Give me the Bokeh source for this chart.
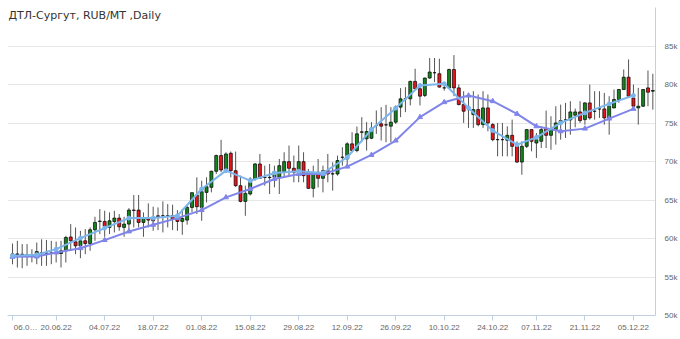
from bokeh.plotting import figure
from bokeh.models import Range1d, FixedTicker, Label, ColumnDataSource
from bokeh.embed import file_html
from bokeh.resources import INLINE

title_text = "ДТЛ-Сургут, RUB/MT ,Daily"

opens = [57900, 58000, 57950, 57880, 57800, 57880, 58150, 58100, 58120, 58050,
         58050, 58400, 60200, 59570, 59050, 59700, 59350, 61130, 62220, 62220,
         61440, 62200, 62650, 61440, 61870, 63690, 63690, 62090, 62650, 62650,
         62950, 62950, 62950, 62950, 62650, 62220, 62390, 64040, 65650, 64040,
         65990, 66640, 68730, 70770, 69030, 71070, 68810, 66860, 64820, 65780,
         67730, 69680, 67950, 67900, 67950, 67950, 68680, 69980, 69120, 68600,
         69980, 68680, 66510, 68600, 67820, 68810, 68380, 68380, 70550, 70330,
         72290, 71420, 73800, 72940, 73020, 74670, 74890, 74760, 74590, 75110,
         77060, 78140, 78140, 80400, 79450, 78580, 80840, 81530, 81400, 79560,
         79560, 81950, 79560, 77390, 76740, 76090, 76740, 74790, 76960, 74790,
         72840, 72840, 72750, 73400, 71970, 69930, 71970, 74140, 72400, 72620,
         74270, 73400, 74140, 75010, 75400, 75400, 76010, 76440, 75440, 77610,
         76530, 76830, 76830, 75660, 76960, 78050, 79350, 80950, 78260, 76960,
         77180, 79560, 79130]
highs = [59350, 59700, 59270, 59270, 58600, 59480, 59900, 59800, 59700, 59600,
         59700, 60350, 61870, 61440, 61000, 61220, 61440, 62820, 63820, 63600,
         63390, 63600, 63170, 62820, 63950, 65650, 65650, 63390, 64560, 64130,
         64040, 64820, 64470, 64390, 63690, 63820, 64260, 65990, 67950, 67510,
         67950, 68810, 70900, 72810, 71200, 71300, 71290, 68160, 66860, 67950,
         69800, 70980, 69460, 69680, 69460, 70330, 71200, 72070, 70770, 72070,
         71200, 69030, 69460, 70330, 69460, 70980, 69900, 70770, 71850, 72500,
         73800, 74540, 75760, 75110, 75110, 76630, 77060, 77360, 77060, 77280,
         79530, 79660, 80500, 82050, 80100, 80900, 83440, 83440, 83350, 80000,
         82050, 83820, 80000, 79130, 78700, 79130, 78700, 79130, 78700, 75010,
         75010, 75010, 74570, 75440, 72620, 72620, 74200, 74200, 73700, 74570,
         76610, 75880, 77180, 77390, 77610, 77830, 76870, 77830, 77700, 80000,
         79130, 79130, 78910, 78480, 79350, 79400, 81950, 83250, 79990, 79560,
         79400, 81820, 81390]
lows = [56650, 56230, 56140, 56450, 56900, 56660, 56450, 56450, 56660, 56880,
        56230, 56880, 58400, 57960, 57440, 57960, 58400, 59700, 60570, 60220,
        60570, 60790, 61000, 60220, 61000, 61440, 61440, 60220, 61440, 61000,
        61090, 60790, 61440, 61090, 61000, 60480, 61790, 63390, 63170, 62300,
        64690, 65990, 68380, 68600, 68810, 67950, 66700, 64690, 62950, 65600,
        67510, 67730, 66860, 65780, 66640, 65780, 67950, 68160, 67300, 67300,
        67300, 66430, 65340, 66640, 65990, 67300, 66210, 68160, 69460, 69250,
        71200, 71200, 72500, 71420, 72900, 73590, 72720, 72500, 72500, 74890,
        75760, 76410, 77280, 79400, 77280, 78360, 80750, 80310, 79600, 79200,
        79500, 78480, 77300, 75010, 74360, 74360, 74570, 74360, 73920, 72620,
        70670, 70670, 70670, 70670, 69800, 68280, 71750, 71320, 70450, 71750,
        71750, 71530, 72190, 72840, 73060, 73480, 74440, 75010, 74790, 75440,
        75440, 75660, 74790, 73480, 76900, 77610, 79300, 78400, 76960, 74790,
        77100, 77180, 76740]
closes = [58000, 57900, 57930, 57790, 57850, 58300, 58050, 58120, 58100, 58080,
          58400, 60130, 59700, 59050, 59700, 59350, 61130, 62090, 62260, 61570,
          62300, 62650, 61520, 61870, 63690, 63650, 62090, 62650, 62390, 62300,
          62850, 62950, 62960, 62520, 62220, 62600, 64040, 65950, 64130, 66080,
          66730, 68730, 70770, 68900, 70980, 68810, 66860, 64820, 65860, 67730,
          69680, 67820, 67920, 67950, 68680, 69460, 69980, 69120, 68600, 69980,
          68160, 66510, 68380, 67820, 68810, 68380, 68400, 70120, 70550, 72290,
          71420, 73590, 73850, 73890, 74330, 74670, 74590, 74750, 75110, 77060,
          78140, 78150, 80400, 79450, 78490, 80840, 81620, 81530, 79660, 79560,
          81950, 79560, 77390, 76530, 76740, 76740, 74790, 76960, 75010, 72840,
          72840, 72840, 73400, 71970, 69930, 71970, 74140, 72620, 72840, 74140,
          73400, 74270, 75010, 75310, 75400, 76440, 76440, 75310, 77610, 75660,
          76520, 76830, 75660, 77180, 78050, 79350, 80950, 78480, 77180, 77180,
          79350, 79000, 79220]

# weekly average points (positions = first trading day of each week)
ma_idx = [0, 5, 9, 14, 19, 24, 29, 34, 39, 44, 49, 54, 59, 64, 69, 74, 79, 84,
          89, 94, 99, 104, 108, 113, 118, 123, 128]
ma_fast = [57750, 57880, 58620, 60050, 61350, 62650, 62650, 62950, 66430, 68810,
           67510, 68510, 68730, 68510, 70550, 74150, 76930, 79880, 80090, 76960,
           74010, 72190, 73140, 75010, 76310, 77480, 78570]
ma_slow = [57620, 57660, 58180, 58740, 59790, 60910, 61780, 62650, 63690, 65340,
           66430, 67730, 68380, 68380, 69330, 70850, 72720, 75760, 77700, 78560,
           77830, 76180, 74570, 73920, 74270, 75570, 76830]

x_tick_idx = [0, 9, 19, 29, 39, 49, 59, 69, 79, 89, 99, 108, 118, 128]
x_tick_labels = ["06.0…", "20.06.22", "04.07.22", "18.07.22", "01.08.22",
                 "15.08.22", "29.08.22", "12.09.22", "26.09.22", "10.10.22",
                 "24.10.22", "07.11.22", "21.11.22", "05.12.22"]
y_ticks = [50000, 55000, 60000, 65000, 70000, 75000, 80000, 85000, 90000]
y_tick_labels = ["50k", "55k", "60k", "65k", "70k", "75k", "80k", "85k", ""]

UP = "#12861a"
DOWN = "#e8141c"
LABEL_FONT = "Liberation Sans"
LABEL_COLOR = "#666666"

idx = list(range(len(opens)))
colors = [UP if c > o else (DOWN if c < o else "#000000") for o, c in zip(opens, closes)]
src = ColumnDataSource(dict(
    x=idx,
    top=[max(o, c) for o, c in zip(opens, closes)],
    bottom=[min(o, c) for o, c in zip(opens, closes)],
    high=highs, low=lows, color=colors,
))

p = figure(width=680, height=339, output_backend="svg", toolbar_location=None,
           x_range=Range1d(-1.03, 132.55), y_range=Range1d(50000, 90000),
           y_axis_location="right",
           min_border_left=7, min_border_right=23, min_border_top=7, min_border_bottom=24)
p.outline_line_color = None
p.background_fill_color = "white"

p.segment(x0="x", y0="low", x1="x", y1="high", source=src, line_color="#555555", line_width=1)
p.vbar(x="x", width=0.62, top="top", bottom="bottom", source=src,
       fill_color="color", line_color="#000000", line_width=0.7)

p.line(ma_idx, ma_slow, line_color="#8085e9", line_width=2)
p.scatter(ma_idx, ma_slow, marker="triangle", size=5, fill_color="#8085e9", line_color="#8085e9")
p.line(ma_idx, ma_fast, line_color="#7cb5ec", line_width=2)
p.scatter(ma_idx, ma_fast, marker="circle", size=4, fill_color="#7cb5ec", line_color="#7cb5ec")

p.xgrid.visible = False
p.ygrid.grid_line_color = "#e6e6e6"
p.ygrid.grid_line_width = 1

xa = p.xaxis[0]
xa.ticker = FixedTicker(ticks=x_tick_idx)
overrides = {i: s for i, s in zip(x_tick_idx, x_tick_labels)}
# the clipped first label sits right of its tick in the source chart
overrides[x_tick_idx[0]] = "\u00a0" * 6 + x_tick_labels[0]
xa.major_label_overrides = overrides
xa.axis_line_color = "#c0d0e0"
xa.major_tick_line_color = "#c0d0e0"
xa.major_tick_out = 5
xa.major_tick_in = 0
xa.minor_tick_line_color = None
xa.major_label_standoff = 2
xa.major_label_text_font = LABEL_FONT
xa.major_label_text_font_size = "8px"
xa.major_label_text_color = LABEL_COLOR

ya = p.yaxis[0]
ya.ticker = FixedTicker(ticks=y_ticks)
ya.major_label_overrides = {t: s for t, s in zip(y_ticks, y_tick_labels)}
ya.axis_line_color = "#c0d0e0"
ya.major_tick_line_color = None
ya.minor_tick_line_color = None
ya.major_label_standoff = 3
ya.major_label_text_font = LABEL_FONT
ya.major_label_text_font_size = "8px"
ya.major_label_text_color = LABEL_COLOR

p.add_layout(Label(x=-1.03, y=89850, x_offset=1, text=title_text, text_baseline="top",
                   text_font="DejaVu Sans", text_font_size="11px", text_color="#333333"))

open("out.html", "w").write(file_html(p, INLINE))
